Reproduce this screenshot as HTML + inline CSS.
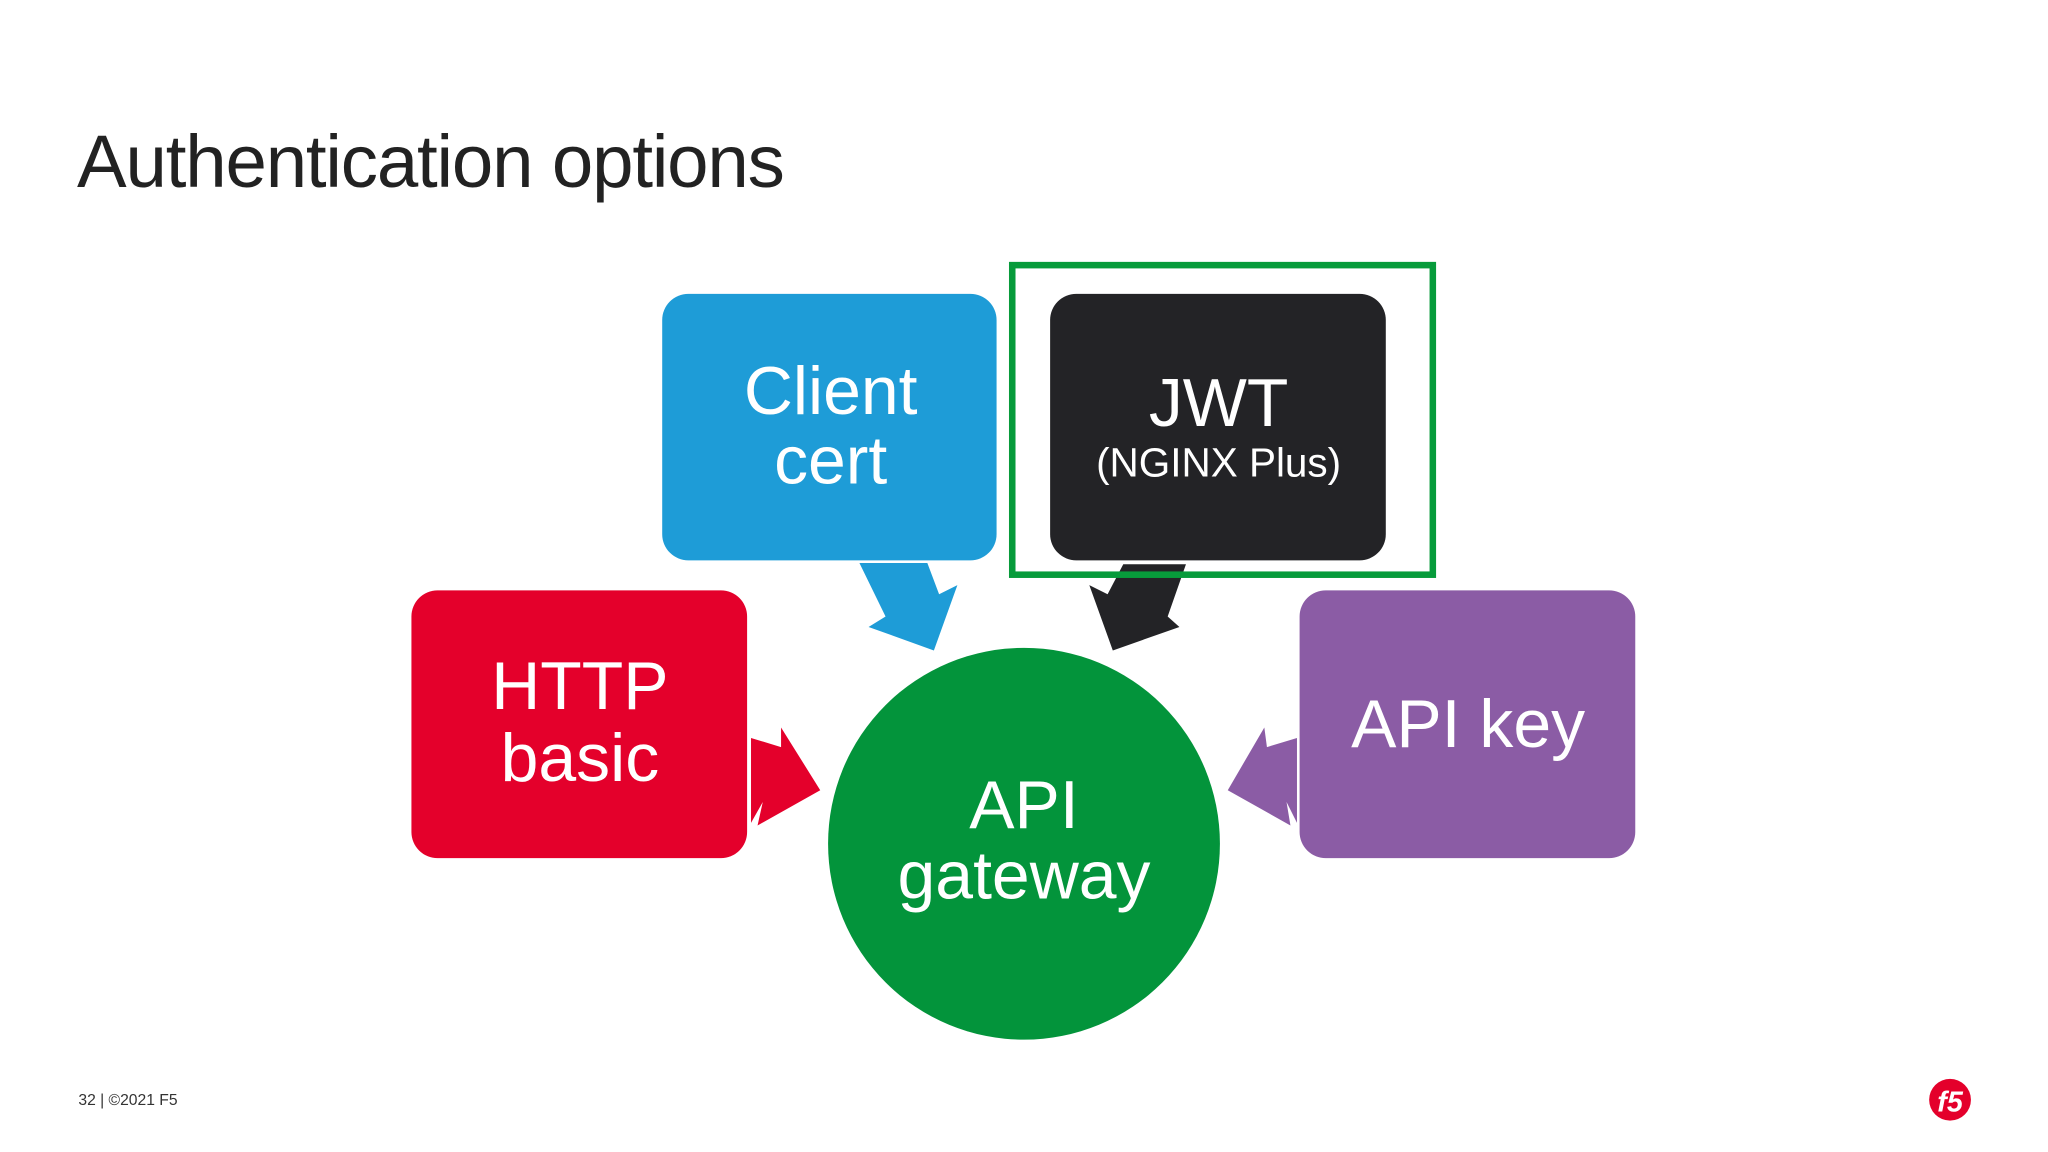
<!DOCTYPE html>
<html><head><meta charset="utf-8"><style>
html,body{margin:0;padding:0;background:#fff;}
svg{display:block;}
text{font-family:"Liberation Sans",sans-serif;}
</style></head><body>
<svg width="2048" height="1152" viewBox="0 0 1568 882" xmlns="http://www.w3.org/2000/svg">
<rect width="1568" height="882" fill="#fff"/>
<text x="59" y="143" font-size="57" fill="#222" letter-spacing="-0.9">Authentication options</text>

<polygon points="658,431 710,431 719,455 733,448 715,498 665,480 678,472" fill="#1e9cd7"/>
<polygon points="860,432 908,432 894,472 903,480 852,498 834,448 848,455" fill="#232326"/>
<polygon points="575,565 598,572 598,557 628,605 580,632 584,614 575,630" fill="#e4002b"/>
<polygon points="993,565 970,572 968,557 940,605 988,632 985,614 993,630" fill="#8b5ca5"/>

<rect x="507" y="225" width="256" height="204" rx="20" fill="#1e9cd7"/>
<rect x="804" y="225" width="257" height="204" rx="20" fill="#232326"/>
<rect x="315" y="452" width="257" height="205" rx="20" fill="#e4002b"/>
<rect x="995" y="452" width="257" height="205" rx="20" fill="#8b5ca5"/>
<circle cx="784" cy="646" r="150" fill="#03943b"/>
<rect x="775" y="203" width="322" height="237" fill="none" stroke="#079b3b" stroke-width="5"/>

<g fill="#fff" text-anchor="middle" font-size="52">
<text x="636" y="317">Client</text>
<text x="636" y="370">cert</text>
<text x="933" y="326">JWT</text>
<text x="933" y="365" font-size="31">(NGINX Plus)</text>
<text x="444" y="543">HTTP</text>
<text x="444" y="598">basic</text>
<text x="1124" y="572">API key</text>
<text x="784" y="634">API</text>
<text x="784" y="688">gateway</text>
</g>

<text x="60" y="846" font-size="12" fill="#333">32 | ©2021 F5</text>
<circle cx="1493" cy="842" r="16" fill="#e4002b"/>
<text x="1493" y="851" font-size="22" font-weight="bold" font-style="italic" fill="#fff" text-anchor="middle">f5</text>
</svg>
</body></html>
